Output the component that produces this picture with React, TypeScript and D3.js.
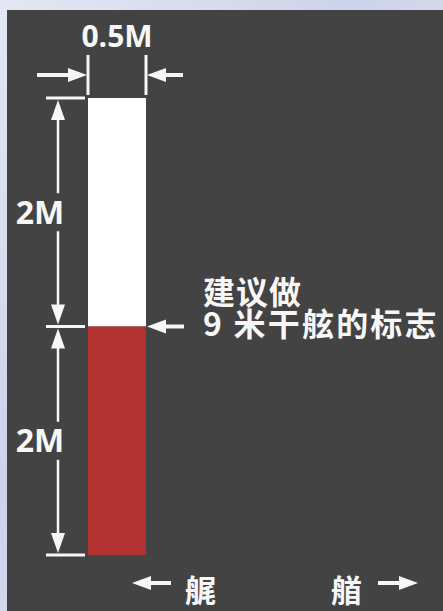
import React from "react";
import * as d3 from "d3";

// Data
const segmentLabels = ["2M", "2M"];
const segmentValues = [2, 2]; // metres, top to bottom
const segmentColors = ["#ffffff", "#b23131"];
const markWidthValue = 0.5;
const markWidthLabel = "0.5M";
const noteLines = ["建议做", "9 米干舷的标志"];
const sternLabel = "艉";
const bowLabel = "艏";

const W = 443;
const H = 611;
const FG = "#f7f7f7";

function Arrow({ x1, y1, x2, y2, sw = 3, hl = 19, hw = 7 }: any) {
  const dx = x2 - x1, dy = y2 - y1;
  const len = Math.sqrt(dx * dx + dy * dy);
  const ux = dx / len, uy = dy / len;
  const bx = x2 - ux * hl, by = y2 - uy * hl;
  const px = -uy * hw, py = ux * hw;
  const path = d3.path();
  path.moveTo(x2, y2);
  path.lineTo(bx + px, by + py);
  path.lineTo(bx - px, by - py);
  path.closePath();
  return (
    <g>
      <line x1={x1} y1={y1} x2={bx + ux * 2} y2={by + uy * 2} stroke={FG} strokeWidth={sw} />
      <path d={path.toString()} fill={FG} />
    </g>
  );
}

export default function App() {
  const total = d3.sum(segmentValues);
  const y = d3.scaleLinear().domain([0, total]).range([98, 555]);
  const x = d3.scaleLinear().domain([0, markWidthValue]).range([88, 146]);
  const cum = d3.cumsum(segmentValues);
  const bounds = [0, ...Array.from(cum)];
  const dimX = 58;
  const gap = 19;

  return (
    <svg width={W} height={H} style={{ position: "absolute", left: 0, top: 0 }}>
      <defs>
        <linearGradient id="bg" x1="0" y1="0" x2="1" y2="1">
          <stop offset="0" stopColor="#e4e7f3" />
          <stop offset="0.4" stopColor="#cdd3ea" />
          <stop offset="0.7" stopColor="#dde1f0" />
          <stop offset="1" stopColor="#c4cbe6" />
        </linearGradient>
      </defs>
      <rect x={0} y={0} width={W} height={H} fill="url(#bg)" />
      <rect x={7} y={10} width={W - 7} height={H - 10} fill="#434343" />

      {/* bar segments */}
      {segmentValues.map((v, i) => (
        <rect
          key={i}
          x={x(0)}
          y={y(bounds[i])}
          width={x(markWidthValue) - x(0)}
          height={y(bounds[i + 1]) - y(bounds[i])}
          fill={segmentColors[i]}
        />
      ))}

      {/* width dimension */}
      <line x1={x(0)} y1={55} x2={x(0)} y2={95} stroke={FG} strokeWidth={3} />
      <line x1={x(markWidthValue)} y1={55} x2={x(markWidthValue)} y2={95} stroke={FG} strokeWidth={3} />
      <Arrow x1={37} y1={75} x2={x(0) - 1} y2={75} sw={4} hw={7} />
      <Arrow x1={183} y1={75} x2={x(markWidthValue) + 1} y2={75} sw={4} hw={7} />
      <text
        x={(x(0) + x(markWidthValue)) / 2}
        y={47}
        textAnchor="middle"
        fontFamily="'Open Sans', sans-serif"
        fontWeight="bold"
        fontSize={30}
        fill={FG}
      >
        {markWidthLabel}
      </text>

      {/* height dimension ticks */}
      {bounds.map((b, i) => (
        <line key={i} x1={46} x2={85} y1={y(b)} y2={y(b)} stroke={FG} strokeWidth={3} />
      ))}

      {/* height dimension arrows and labels */}
      {segmentValues.map((v, i) => {
        const top = y(bounds[i]);
        const bot = y(bounds[i + 1]);
        const mid = (top + bot) / 2;
        return (
          <g key={i}>
            <Arrow x1={dimX} y1={mid - gap} x2={dimX} y2={top + 2} sw={2.5} hl={20} hw={7} />
            <Arrow x1={dimX} y1={mid + gap} x2={dimX} y2={bot - 2} sw={2.5} hl={20} hw={7} />
            <text
              x={40}
              y={mid}
              dy="0.36em"
              textAnchor="middle"
              fontFamily="'Open Sans', sans-serif"
              fontWeight="bold"
              fontSize={32}
              fill={FG}
            >
              {segmentLabels[i]}
            </text>
          </g>
        );
      })}

      {/* note */}
      <Arrow x1={184} y1={y(bounds[1])} x2={x(markWidthValue) + 1} y2={y(bounds[1])} sw={4} />
      {noteLines.map((t, i) => (
        <text
          key={i}
          x={203}
          y={290 + i * 32}
          dominantBaseline="central"
          fontFamily="'Noto Sans CJK SC', sans-serif"
          fontWeight="bold"
          fontSize={32}
          fill={FG}
          letterSpacing={i === 1 ? 2.2 : 1}
        >
          {t}
        </text>
      ))}

      {/* stern / bow */}
      <Arrow x1={171} y1={583} x2={132} y2={583} sw={4} />
      <text
        x={185}
        y={588}
        dominantBaseline="central"
        fontFamily="'Noto Sans CJK SC', sans-serif"
        fontWeight="bold"
        fontSize={31}
        fill={FG}
      >
        {sternLabel}
      </text>
      <text
        x={331}
        y={588}
        dominantBaseline="central"
        fontFamily="'Noto Sans CJK SC', sans-serif"
        fontWeight="bold"
        fontSize={31}
        fill={FG}
      >
        {bowLabel}
      </text>
      <Arrow x1={378} y1={583} x2={418} y2={583} sw={4} />
    </svg>
  );
}
